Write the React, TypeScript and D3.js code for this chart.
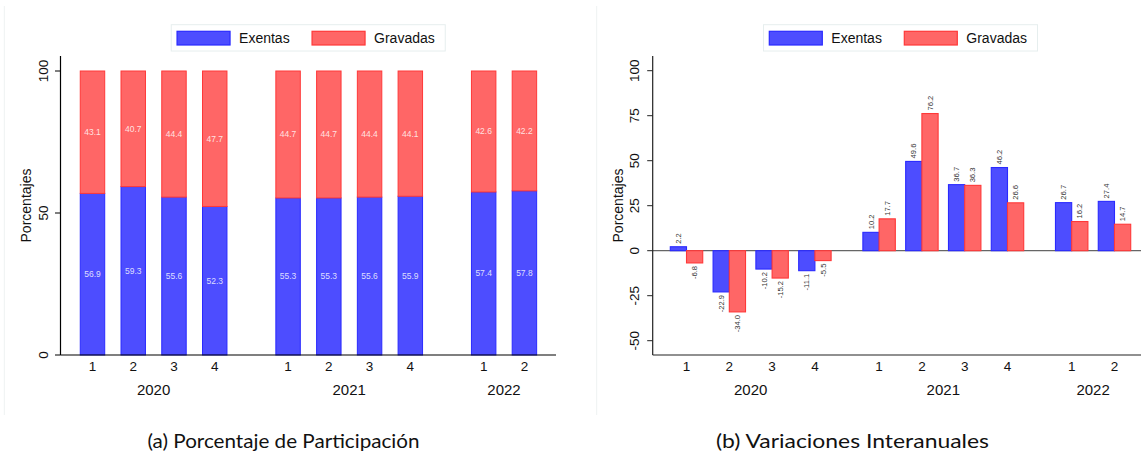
import React from 'react';
import * as d3 from 'd3';

const years = ['2020', '2021', '2022'];
const quarters = ['1', '2', '3', '4', '1', '2', '3', '4', '1', '2'];
const yearIndex = [0, 0, 0, 0, 1, 1, 1, 1, 2, 2];
const exentasShare = [56.9, 59.3, 55.6, 52.3, 55.3, 55.3, 55.6, 55.9, 57.4, 57.8];
const gravadasShare = [43.1, 40.7, 44.4, 47.7, 44.7, 44.7, 44.4, 44.1, 42.6, 42.2];
const exentasVar = [2.2, -22.9, -10.2, -11.1, 10.2, 49.6, 36.7, 46.2, 26.7, 27.4];
const gravadasVar = [-6.8, -34.0, -15.2, -5.5, 17.7, 76.2, 36.3, 26.6, 16.2, 14.7];
const shareTicks = [0, 50, 100];
const varTicks = [-50, -25, 0, 25, 50, 75, 100];
const seriesNames = ['Exentas', 'Gravadas'];
const captions = ['(a) Porcentaje de Participación', '(b) Variaciones Interanuales'];

const W = 1141;
const H = 459;
const BLUE = '#4d4dff';
const BLUE_S = '#2a2aff';
const RED = '#ff6666';
const RED_S = '#ff3838';
const FONT = '"Liberation Sans", Arial, Helvetica, sans-serif';
const AXIS_TOP = 56;
const AXIS_BOTTOM = 355;

function Legend({ cx }: { cx: number }) {
  const bw = 274;
  const x0 = cx - bw / 2;
  const items = [
    { name: seriesNames[0], fill: BLUE, stroke: BLUE_S, sx: 5.8, tx: 67.8 },
    { name: seriesNames[1], fill: RED, stroke: RED_S, sx: 140.8, tx: 202.8 },
  ];
  return (
    <g>
      <rect x={x0} y={24.7} width={bw} height={26.3} fill="#fff" stroke="#e6eeee" strokeWidth={1} />
      {items.map((it) => (
        <g key={it.name}>
          <rect x={x0 + it.sx} y={31.3} width={53} height={13.7} fill={it.fill} stroke={it.stroke} strokeWidth={1.2} />
          <text x={x0 + it.tx} y={38.3} dy="0.36em" fontSize={14} fontFamily={FONT} fill="#111">
            {it.name}
          </text>
        </g>
      ))}
    </g>
  );
}

function groupCenters(x: d3.ScaleLinear<number, number>, gap: number) {
  return years.map((_, g) => {
    const idx = yearIndex.map((yi, i) => (yi === g ? i : -1)).filter((i) => i >= 0);
    const a = x(idx[0] + g * gap);
    const b = x(idx[idx.length - 1] + g * gap);
    return (a + b) / 2;
  });
}

function LeftPanel() {
  const gap = 0.8;
  const axisX = 60.5;
  const x = d3.scaleLinear().domain([-0.785, 11.375]).range([axisX, 556]);
  const y = d3.scaleLinear().domain([0, 100]).range([355, 71]);
  const slotW = x(1) - x(0);
  const bw = slotW * 0.6;
  const centers = quarters.map((_, i) => x(i + yearIndex[i] * gap));
  const gc = groupCenters(x, gap);
  return (
    <g>
      <line x1={4.3} x2={4.3} y1={6} y2={415} stroke="#eef2f2" strokeWidth={1} />
      <Legend cx={(axisX + 556) / 2} />
      {centers.map((c, i) => (
        <g key={i}>
          <rect x={c - bw / 2} y={y(exentasShare[i])} width={bw} height={y(0) - y(exentasShare[i])}
            fill={BLUE} stroke={BLUE_S} strokeWidth={1} />
          <rect x={c - bw / 2} y={y(100)} width={bw} height={y(exentasShare[i]) - y(100)}
            fill={RED} stroke={RED_S} strokeWidth={1} />
          <text x={c} y={y(exentasShare[i] / 2)} dy="0.35em" textAnchor="middle" fontSize={8.5}
            fontFamily={FONT} fill="#fff" fillOpacity={0.82}>{exentasShare[i].toFixed(1)}</text>
          <text x={c} y={y(exentasShare[i] + gravadasShare[i] / 2)} dy="0.35em" textAnchor="middle" fontSize={8.5}
            fontFamily={FONT} fill="#fff" fillOpacity={0.82}>{gravadasShare[i].toFixed(1)}</text>
          <text x={c} y={366.7} dy="0.35em" textAnchor="middle" fontSize={13.5} fontFamily={FONT} fill="#111">
            {quarters[i]}
          </text>
        </g>
      ))}
      {gc.map((c, g) => (
        <text key={g} x={c} y={389.5} dy="0.36em" textAnchor="middle" fontSize={15} fontFamily={FONT} fill="#111">
          {years[g]}
        </text>
      ))}
      <line x1={axisX} x2={axisX} y1={AXIS_TOP} y2={AXIS_BOTTOM} stroke="#000" strokeWidth={1.2} />
      <line x1={axisX} x2={556} y1={AXIS_BOTTOM} y2={AXIS_BOTTOM} stroke="#000" strokeWidth={1.2} />
      {shareTicks.map((t) => (
        <g key={t}>
          <line x1={axisX - 5.5} x2={axisX} y1={y(t)} y2={y(t)} stroke="#000" strokeWidth={1} />
          <text transform={`translate(43.3,${y(t)}) rotate(-90)`} dy="0.36em" textAnchor="middle"
            fontSize={13.5} fontFamily={FONT} fill="#111">{t}</text>
        </g>
      ))}
      <text transform={`translate(26,${(AXIS_TOP + AXIS_BOTTOM) / 2}) rotate(-90)`} dy="0.36em" textAnchor="middle"
        fontSize={14} fontFamily={FONT} fill="#111">Porcentajes</text>
    </g>
  );
}

function RightPanel() {
  const gap = 0.5;
  const axisX = 652.7;
  const x = d3.scaleLinear().domain([-0.79, 10.79]).range([axisX, 1148.3]);
  const y = d3.scaleLinear().domain([-50, 100]).range([340.7, 70.7]);
  const slotW = x(1) - x(0);
  const bw = slotW * 0.379;
  const centers = quarters.map((_, i) => x(i + yearIndex[i] * gap));
  const gc = groupCenters(x, gap);
  const label = (v: number, cx: number, key: string) => {
    const pos = v >= 0;
    const yy = pos ? y(v) - 3 : y(v) + 3;
    return (
      <text key={key} transform={`translate(${cx},${yy}) rotate(-90)`} dy="0.35em" textAnchor={pos ? 'start' : 'end'}
        fontSize={7.6} fontFamily={FONT} fill="#333">{v.toFixed(1)}</text>
    );
  };
  return (
    <g>
      <line x1={596.7} x2={596.7} y1={6} y2={415} stroke="#eef2f2" strokeWidth={1} />
      <Legend cx={(axisX + 1148.3) / 2} />
      <line x1={axisX} x2={W} y1={y(0)} y2={y(0)} stroke="#666" strokeWidth={1.2} />
      {centers.map((c, i) => {
        const e = exentasVar[i];
        const g = gravadasVar[i];
        return (
          <g key={i}>
            <rect x={c - bw} y={Math.min(y(e), y(0))} width={bw} height={Math.abs(y(e) - y(0))}
              fill={BLUE} stroke={BLUE_S} strokeWidth={1.1} />
            <rect x={c} y={Math.min(y(g), y(0))} width={bw} height={Math.abs(y(g) - y(0))}
              fill={RED} stroke={RED_S} strokeWidth={1.1} />
            {label(e, c - bw / 2, 'e')}
            {label(g, c + bw / 2, 'g')}
            <text x={c} y={366.7} dy="0.35em" textAnchor="middle" fontSize={13.5} fontFamily={FONT} fill="#111">
              {quarters[i]}
            </text>
          </g>
        );
      })}
      {gc.map((c, g) => (
        <text key={g} x={c} y={389.5} dy="0.36em" textAnchor="middle" fontSize={15} fontFamily={FONT} fill="#111">
          {years[g]}
        </text>
      ))}
      <line x1={axisX} x2={axisX} y1={AXIS_TOP} y2={AXIS_BOTTOM} stroke="#222" strokeWidth={1.2} />
      <line x1={axisX} x2={W} y1={AXIS_BOTTOM} y2={AXIS_BOTTOM} stroke="#222" strokeWidth={1.2} />
      {varTicks.map((t) => (
        <g key={t}>
          <line x1={axisX - 5.5} x2={axisX} y1={y(t)} y2={y(t)} stroke="#222" strokeWidth={1} />
          <text transform={`translate(634.3,${y(t)}) rotate(-90)`} dy="0.36em" textAnchor="middle"
            fontSize={13.5} fontFamily={FONT} fill="#111">{t}</text>
        </g>
      ))}
      <text transform={`translate(618,${(AXIS_TOP + AXIS_BOTTOM) / 2}) rotate(-90)`} dy="0.36em" textAnchor="middle"
        fontSize={14} fontFamily={FONT} fill="#111">Porcentajes</text>
    </g>
  );
}

export default function App() {
  return (
    <svg width={W} height={H} viewBox={`0 0 ${W} ${H}`}
      style={{ position: 'absolute', left: 0, top: 0, background: '#fff' }}>
      <rect x={0} y={0} width={W} height={H} fill="#fff" />
      <LeftPanel />
      <RightPanel />
      <text x={283.5} y={448} textAnchor="middle" fontSize={19} fontFamily='Lato, "Noto Sans", sans-serif'
        fill="#111" textLength={272} lengthAdjust="spacingAndGlyphs">{captions[0]}</text>
      <text x={852.5} y={448} textAnchor="middle" fontSize={19} fontFamily='Lato, "Noto Sans", sans-serif'
        fill="#111" textLength={273} lengthAdjust="spacingAndGlyphs">{captions[1]}</text>
    </svg>
  );
}
